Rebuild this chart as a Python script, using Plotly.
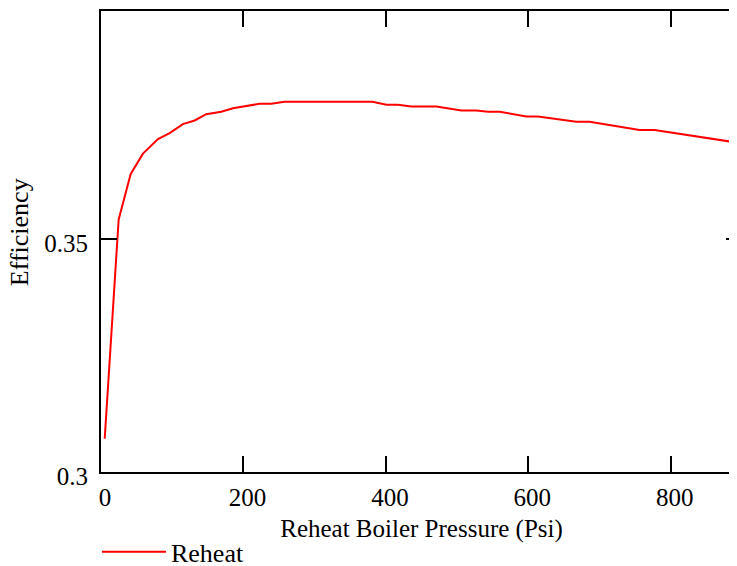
import plotly.graph_objects as go

# Reheat boiler pressure (psi) and cycle efficiency
pressure = [5.2, 24.8, 41.7, 58.9, 80.0, 96.4, 115.0, 131.5, 147.7, 168.8, 185.2,
            203.8, 222.6, 238.9, 257.7, 381.2, 400.8, 417.1, 435.9, 470.9, 506.0,
            527.1, 543.4, 559.8, 597.2, 613.5, 667.4, 686.0, 756.2, 777.2, 887.1, 900.0]
efficiency = [0.30716, 0.35430, 0.36407, 0.36844, 0.37157, 0.37285, 0.37478, 0.37557,
              0.37692, 0.37744, 0.37821, 0.37864, 0.37915, 0.37915, 0.37958, 0.37958,
              0.37894, 0.37894, 0.37857, 0.37857, 0.37772, 0.37772, 0.37744, 0.37744,
              0.37643, 0.37643, 0.37530, 0.37530, 0.37350, 0.37350, 0.37092, 0.37065]

x_ticks = [0, 200, 400, 600, 800]
y_ticks = [0.3, 0.35]
y_tick_text = ["0.3", "0.35"]

font_family = "Liberation Serif, Times New Roman, serif"
fs_tick = 25
fs_title = 25
fs_ytitle = 26
fs_legend = 26

fig = go.Figure()
fig.add_trace(go.Scatter(x=pressure, y=efficiency, mode="lines", name="Reheat",
                         line=dict(color="#ff0000", width=2)))

fig.update_layout(
    width=737, height=580,
    margin=dict(l=93, r=3, t=1, b=116),
    paper_bgcolor="white", plot_bgcolor="white",
    font=dict(family=font_family, size=fs_tick, color="black"),
    showlegend=True,
    legend=dict(orientation="h", x=-0.0063, xanchor="left", y=-0.173, yanchor="middle",
                font=dict(family=font_family, size=fs_legend, color="black"),
                bgcolor="rgba(0,0,0,0)", itemwidth=64),
    xaxis=dict(range=[0, 900], tickvals=x_ticks, ticks="inside", ticklen=16,
               tickwidth=2, tickcolor="black", showline=True, linecolor="black",
               linewidth=2, mirror="ticks", showgrid=False, zeroline=False,
               tickfont=dict(family=font_family, size=fs_tick, color="black"),
               ticklabelshift=4, ticklabelstandoff=2,
               title=dict(text="Reheat Boiler Pressure (Psi)", standoff=9,
                          font=dict(family=font_family, size=fs_title, color="black"))),
    yaxis=dict(range=[0.3, 0.3991], tickvals=y_ticks, ticktext=y_tick_text,
               ticks="inside", ticklen=16, tickwidth=2, tickcolor="black",
               showline=True, linecolor="black", linewidth=2, mirror="ticks",
               showgrid=False, zeroline=False,
               tickfont=dict(family=font_family, size=fs_tick, color="black"),
               ticklabelstandoff=6, ticklabelshift=4),
    annotations=[dict(text="Efficiency", textangle=-90, xref="paper", yref="paper",
                      x=-0.127, y=0.5194, xanchor="center", yanchor="middle",
                      showarrow=False,
                      font=dict(family=font_family, size=fs_ytitle, color="black"))],
)

fig.write_html("out.html")
